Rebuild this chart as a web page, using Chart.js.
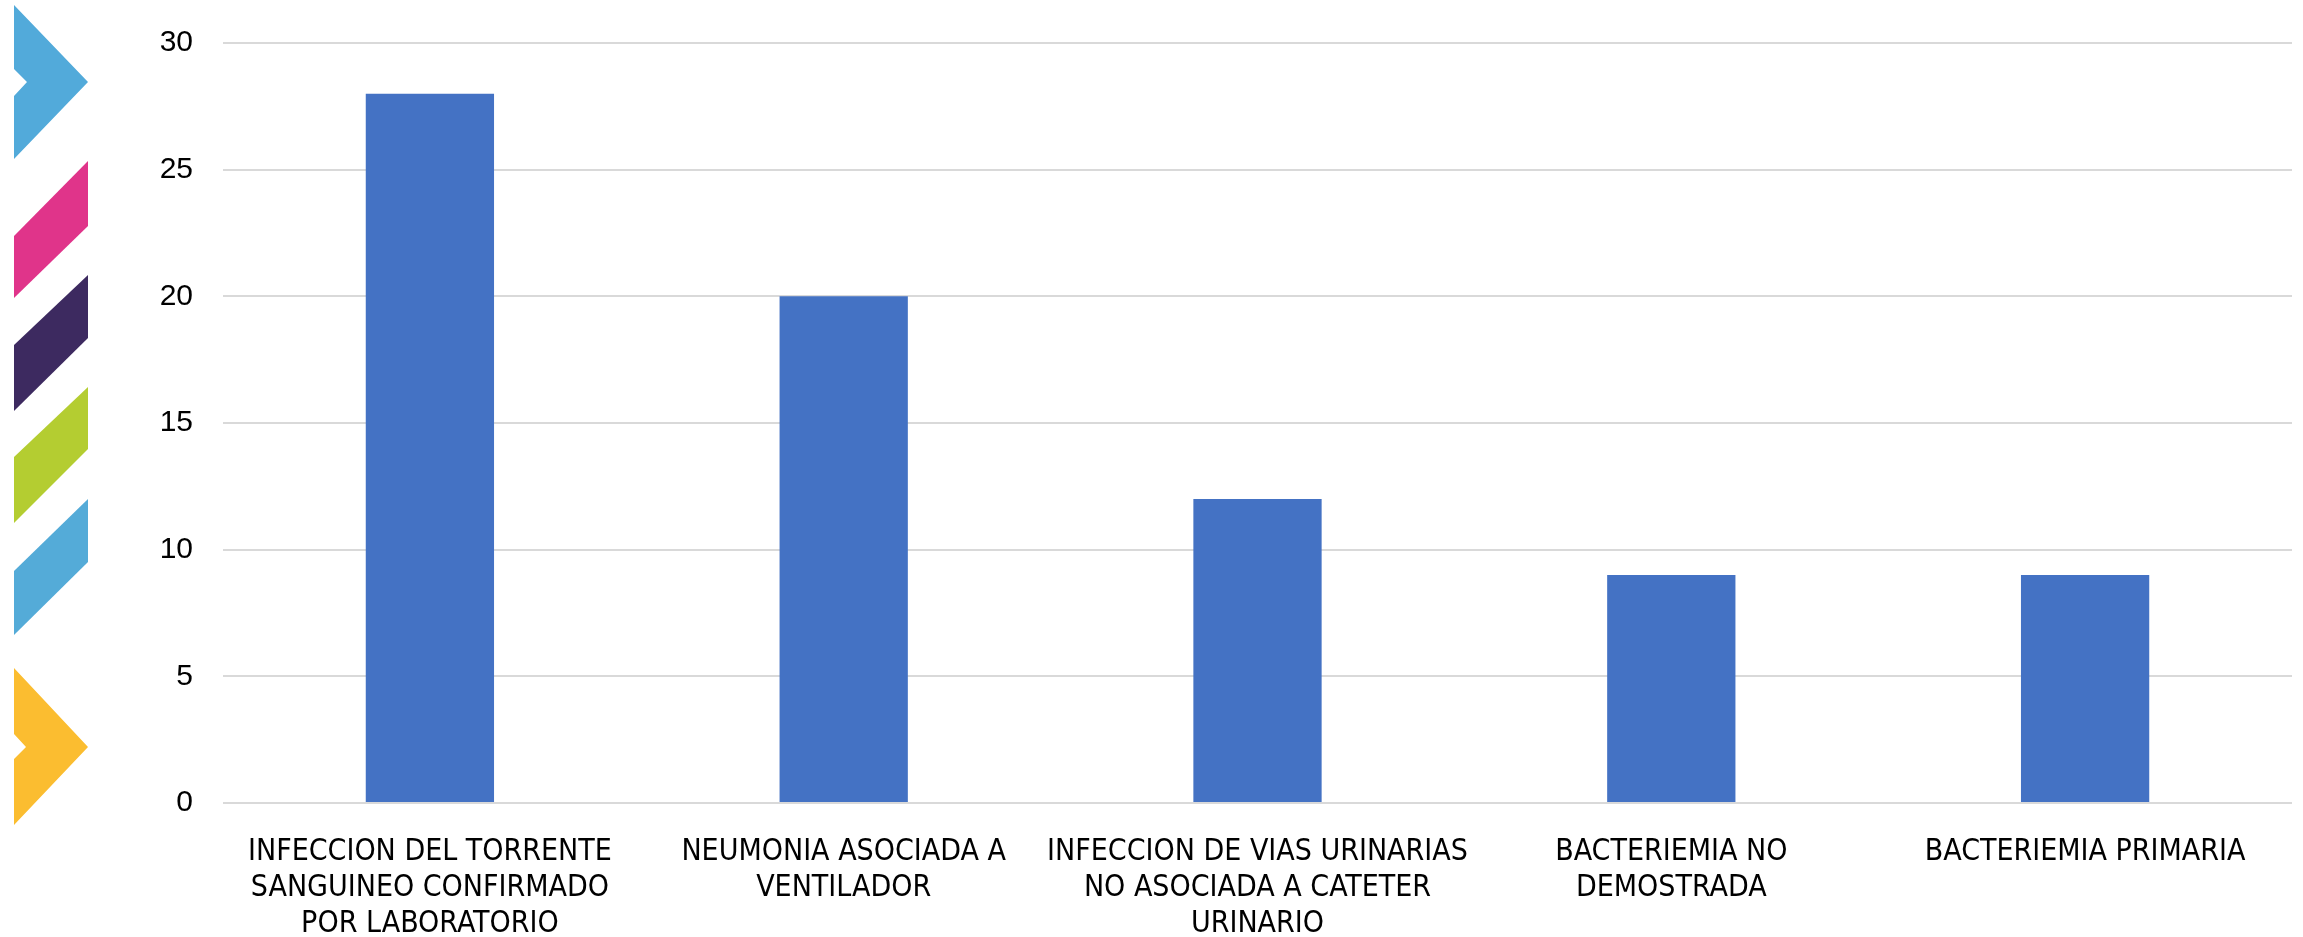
<!DOCTYPE html>
<html>
<head>
<meta charset="utf-8">
<script src="https://cdn.jsdelivr.net/npm/chart.js@4.4.1/dist/chart.umd.min.js"></script>
<style>
  html, body { margin: 0; padding: 0; background: #fff; }
  #wrap { position: relative; width: 2303px; height: 937px; }
  #deco { position: absolute; left: 0; top: 0; }
  #canvas { position: absolute; left: 0; top: 0; }
</style>
</head>
<body>
<div id="wrap">
  <canvas id="canvas" width="2303" height="937"></canvas>
  <!-- franja decorativa de la plantilla -->
  <svg id="deco" width="100" height="840">
    <polygon points="14,5 88,82 14,159 14,96 27,82 14,69" fill="#52AADA"/>
    <polygon points="14,236 88,161 88,226 14,298" fill="#E0348A"/>
    <polygon points="14,345 88,275 88,338 14,411" fill="#3D2A60"/>
    <polygon points="14,457 88,387 88,449 14,523" fill="#B4CD31"/>
    <polygon points="14,571 88,499 88,562 14,635" fill="#54ABD8"/>
    <polygon points="14,668 88,747 14,825 14,759 26,747 14,734" fill="#FBBD30"/>
  </svg>
</div>
<script>
const categories = [
    ['INFECCION DEL TORRENTE', 'SANGUINEO CONFIRMADO', 'POR LABORATORIO'],
    ['NEUMONIA ASOCIADA A', 'VENTILADOR'],
    ['INFECCION DE VIAS URINARIAS', 'NO ASOCIADA A CATETER', 'URINARIO'],
    ['BACTERIEMIA NO', 'DEMOSTRADA'],
    ['BACTERIEMIA PRIMARIA']
];
const casos = [28, 20, 12, 9, 9];
const yTicks = [0, 5, 10, 15, 20, 25, 30];

const ctx = document.getElementById('canvas').getContext('2d');
const myChart = new Chart(ctx, {
    type: 'bar',
    data: {
        labels: categories,
        datasets: [{
            label: 'Casos',
            data: casos,
            backgroundColor: '#4472C4',
            borderWidth: 0,
            categoryPercentage: 1,
            barPercentage: 0.31
        }]
    },
    options: {
        responsive: false,
        animation: false,
        layout: {
            padding: { top: 43, right: 11, left: 0, bottom: 0 }
        },
        plugins: {
            legend: { display: false },
            tooltip: { enabled: false }
        },
        scales: {
            x: {
                grid: { display: false },
                border: { display: false },
                ticks: {
                    color: '#000',
                    font: { family: "'Liberation Sans Narrow', 'DejaVu Sans Condensed', sans-serif", size: 30, lineHeight: 1.2 },
                    padding: 23,
                    maxRotation: 0,
                    autoSkip: false
                },
                afterFit: function(scale) { scale.height = 134; }
            },
            y: {
                min: yTicks[0],
                max: yTicks[yTicks.length - 1],
                afterBuildTicks: function(scale) {
                    scale.ticks = yTicks.map(v => ({ value: v }));
                },
                grid: { color: '#D9D9D9', lineWidth: 2, drawTicks: false },
                border: { display: false },
                ticks: {
                    color: '#000',
                    // lineHeight pequeño para que la etiqueta no empuje el area hacia abajo
                    font: { family: "'Liberation Sans', sans-serif", size: 30, lineHeight: 0.8 },
                    padding: 30
                },
                afterFit: function(scale) { scale.width = 223; }
            }
        }
    }
});
</script>
</body>
</html>
